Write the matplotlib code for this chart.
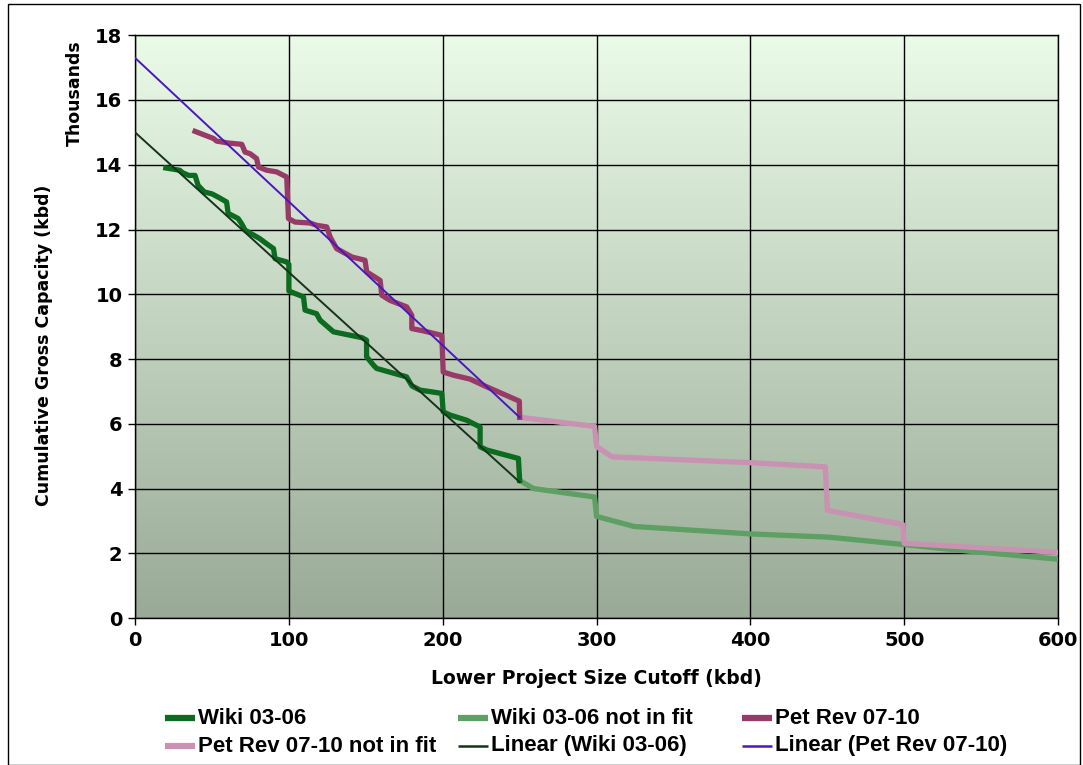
import numpy as np
import matplotlib
matplotlib.use("Agg")
import matplotlib.pyplot as plt
from matplotlib.lines import Line2D
from matplotlib.patches import Rectangle

# ---------------- data (kbd cutoff, thousands kbd) ----------------
wiki_x = [20, 29, 31, 35, 39, 41, 45, 50, 54, 59.5, 60.5, 67, 69.5, 71.5, 81, 85.5, 90, 91, 98.5,
          100, 100, 109.5, 110.5, 118, 120.3, 129, 147.5, 150.5, 150.5, 155, 157, 176.5, 180,
          185.3, 199.4, 200.3, 204.8, 215.6, 224.3, 224.3, 228.7, 249.2, 250]
wiki_y = [13.9, 13.83, 13.75, 13.67, 13.67, 13.36, 13.16, 13.1, 13.0, 12.85, 12.5, 12.34, 12.16,
          11.98, 11.72, 11.56, 11.41, 11.1, 11.0, 10.92, 10.1, 9.92, 9.51, 9.4, 9.2, 8.84, 8.66,
          8.58, 8.07, 7.81, 7.71, 7.45, 7.17, 7.04, 6.94, 6.37, 6.27, 6.11, 5.9, 5.29, 5.19,
          4.93, 4.25]

wiki_nf_x = [250, 259, 298.7, 300, 324.4, 400, 451, 500, 539, 600]
wiki_nf_y = [4.25, 4.0, 3.74, 3.14, 2.83, 2.6, 2.5, 2.27, 2.08, 1.82]

pet_x = [39, 45.5, 51, 53, 60.7, 69.4, 71.5, 74.8, 79, 80.2, 85.6, 92, 98.6, 99.7, 104, 113.8,
         118, 124.6, 126.8, 131, 141, 149.5, 150.6, 159.3, 160.4, 165.8, 176.6, 179.9, 179.9,
         187.4, 199.4, 200.3, 207, 217.8, 228.7, 249.8, 250]
pet_y = [15.03, 14.91, 14.81, 14.73, 14.67, 14.63, 14.39, 14.34, 14.19, 13.93, 13.83, 13.78,
         13.62, 12.34, 12.23, 12.2, 12.13, 12.08, 11.77, 11.41, 11.15, 11.05, 10.69, 10.43,
         9.97, 9.81, 9.61, 9.35, 8.94, 8.87, 8.73, 7.6, 7.5, 7.38, 7.14, 6.7, 6.2]

pet_nf_x = [250, 298.7, 300, 310, 400, 448.7, 450, 499, 500, 600]
pet_nf_y = [6.2, 5.92, 5.3, 4.98, 4.8, 4.67, 3.33, 2.89, 2.31, 2.03]

# linear fits: intercept, slope (thousands per kbd), fit range
lin_wiki = (15.0, -0.0432)
lin_pet = (17.3, -0.0444)
lin_range = [0, 250]

x_ticks = [0, 100, 200, 300, 400, 500, 600]
y_ticks = [0, 2, 4, 6, 8, 10, 12, 14, 16, 18]

labels = ["Wiki 03-06", "Wiki 03-06 not in fit", "Pet Rev 07-10",
          "Pet Rev 07-10 not in fit", "Linear (Wiki 03-06)", "Linear (Pet Rev 07-10)"]

# ---------------- styling ----------------
c_wiki = "#0b6b1f"
c_wiki_nf = "#5e9f63"
c_pet = "#983a68"
c_pet_nf = "#c991b2"
c_lin_wiki = "#16331a"
c_lin_pet = "#4a16c0"

W, H = 1083, 765
fig = plt.figure(figsize=(W / 100, H / 100), dpi=100)
fig.patches.append(Rectangle((0.007, 0.0), 0.99, 0.995, transform=fig.transFigure,
                             fill=False, edgecolor="black", linewidth=1.0))
ax = fig.add_axes([0.1247, 0.192, 0.8523, 0.762])

# gradient background
grad = np.linspace(0, 1, 256).reshape(-1, 1)
top = np.array([0.918, 0.984, 0.910])
bot = np.array([0.600, 0.667, 0.588])
img = top[None, None, :] * (1 - grad[:, :, None]) + bot[None, None, :] * grad[:, :, None]
ax.imshow(img, extent=[0, 600, 0, 18], aspect="auto", origin="upper", zorder=0)

ax.set_xlim(0, 600)
ax.set_ylim(0, 18)
ax.set_xticks(x_ticks)
ax.set_yticks(y_ticks)
ax.grid(True, color="black", linewidth=1.0, zorder=1)
ax.set_axisbelow(False)
for s in ax.spines.values():
    s.set_color("black")
    s.set_linewidth(1.0)

lx = np.array(lin_range, dtype=float)
ax.plot(wiki_nf_x, wiki_nf_y, color=c_wiki_nf, lw=3.8, solid_joinstyle="round", zorder=3)
ax.plot(pet_nf_x, pet_nf_y, color=c_pet_nf, lw=3.8, solid_joinstyle="round", zorder=3)
ax.plot(wiki_x, wiki_y, color=c_wiki, lw=3.8, solid_joinstyle="round", zorder=4)
ax.plot(pet_x, pet_y, color=c_pet, lw=3.8, solid_joinstyle="round", zorder=4)
ax.plot(lx, lin_wiki[0] + lin_wiki[1] * lx, color=c_lin_wiki, lw=1.4, zorder=5)
ax.plot(lx, lin_pet[0] + lin_pet[1] * lx, color=c_lin_pet, lw=1.4, zorder=5)

ax.tick_params(axis="both", direction="out", length=5, width=1, labelsize=14, pad=4)
for t in ax.get_xticklabels() + ax.get_yticklabels():
    t.set_fontweight("bold")

ax.set_xlabel("Lower Project Size Cutoff (kbd)", fontsize=13.5, fontweight="bold", labelpad=14)
ax.set_ylabel("Cumulative Gross Capacity (kbd)", fontsize=12.5, fontweight="bold")
ax.yaxis.set_label_coords(-0.089, 0.468)
fig.text(0.069, 0.878, "Thousands", rotation=90, fontsize=12.5, fontweight="bold",
         ha="center", va="center")

# manual legend (row-major, 3 columns)
handles = [
    dict(color=c_wiki, lw=4.5),
    dict(color=c_wiki_nf, lw=4.5),
    dict(color=c_pet, lw=4.5),
    dict(color=c_pet_nf, lw=4.5),
    dict(color=c_lin_wiki, lw=1.8),
    dict(color=c_lin_pet, lw=1.8),
]
col_px = [165, 458, 742]
row_px = [718, 746]
for i, (lab, st) in enumerate(zip(labels, handles)):
    r, c = divmod(i, 3)
    x0 = col_px[c]
    y = 1 - row_px[r] / H
    fig.add_artist(Line2D([x0 / W, (x0 + 30) / W], [y, y], transform=fig.transFigure,
                          solid_capstyle="butt", **st))
    fig.text((x0 + 33) / W, y, lab, fontsize=16, fontweight="bold",
             family=["Liberation Sans", "DejaVu Sans"], ha="left", va="center")

fig.savefig("out.png", dpi=100)
